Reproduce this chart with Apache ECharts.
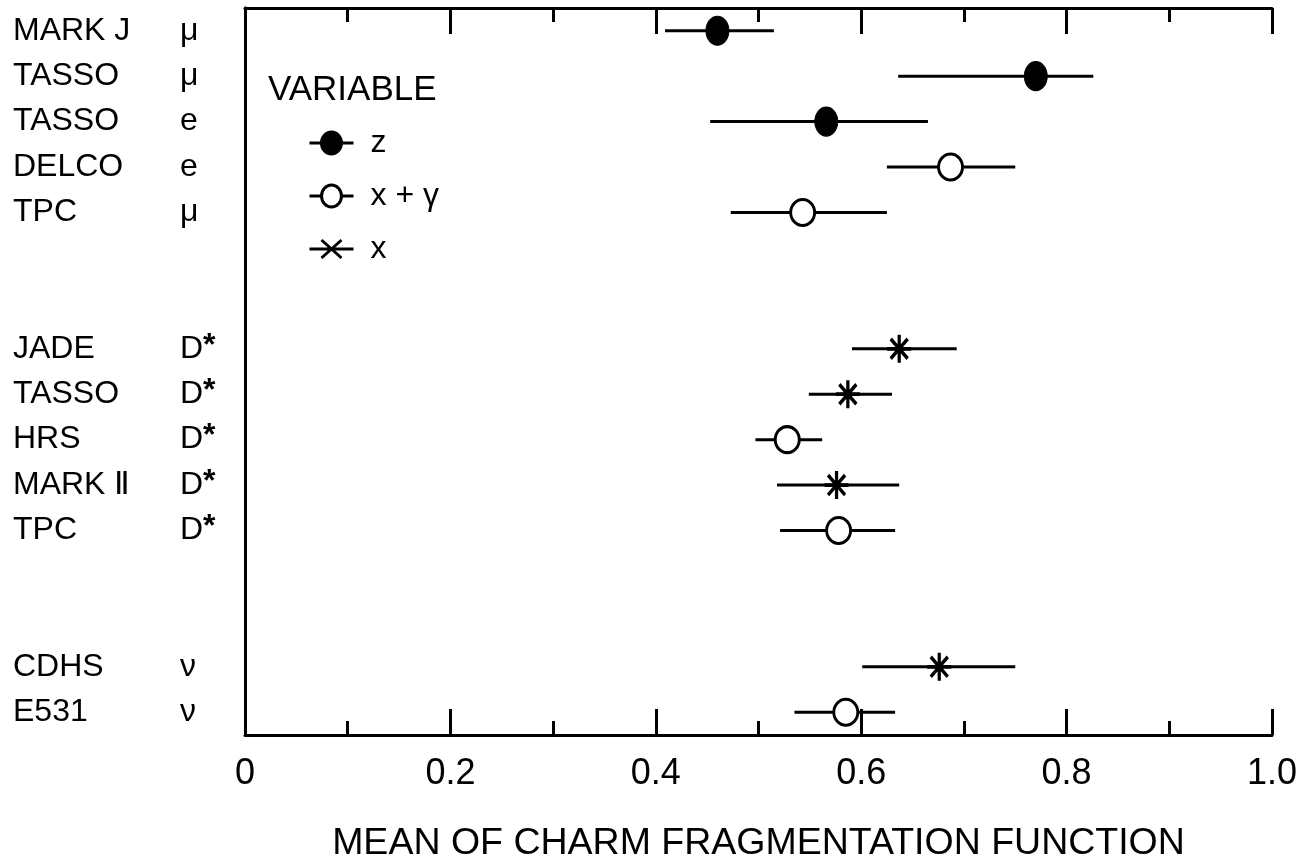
<!DOCTYPE html>
<html>
<head>
<meta charset="utf-8">
<title>Mean of charm fragmentation function</title>
<script src="https://cdn.jsdelivr.net/npm/echarts@6/dist/echarts.min.js"></script>
<style>
  html, body { margin: 0; padding: 0; background: #fff; }
  #chart { width: 1304px; height: 864px; }
</style>
</head>
<body>
<div id="chart"></div>
<script>
// Measurements, top to bottom
const experiments = ['MARK J', 'TASSO', 'TASSO', 'DELCO', 'TPC', 'JADE', 'TASSO', 'HRS', 'MARK Ⅱ', 'TPC', 'CDHS', 'E531'];
const particles   = ['μ', 'μ', 'e', 'e', 'μ', 'D*', 'D*', 'D*', 'D*', 'D*', 'ν', 'ν'];
const rowSlots    = [0, 1, 2, 3, 4, 7, 8, 9, 10, 11, 14, 15];
const variables   = ['z', 'z', 'z', 'x + γ', 'x + γ', 'x', 'x', 'x + γ', 'x', 'x + γ', 'x', 'x + γ'];
const means       = [0.460, 0.770, 0.566, 0.687, 0.543, 0.637, 0.587, 0.528, 0.576, 0.578, 0.676, 0.585];
const lows        = [0.409, 0.636, 0.453, 0.625, 0.473, 0.591, 0.549, 0.497, 0.518, 0.521, 0.601, 0.535];
const highs       = [0.515, 0.826, 0.665, 0.750, 0.625, 0.693, 0.630, 0.562, 0.637, 0.633, 0.750, 0.633];
const slotCount   = 16;

// x axis
const xMin = 0, xMax = 1, xStep = 0.2;
const xTitle = 'MEAN OF CHARM FRAGMENTATION FUNCTION';
const legendTitle = 'VARIABLE';
const variableNames = ['z', 'x + γ', 'x'];

const FONT = '"Liberation Sans", Arial, sans-serif';
const INK = '#000';

// one category per row slot, empty slots separate the groups
const slotKeys = [];
for (let s = 0; s < slotCount; s++) slotKeys.push('');
rowSlots.forEach((s, i) => { slotKeys[s] = experiments[i] + '|' + particles[i]; });

const errorData = rowSlots.map((s, i) => [lows[i], highs[i], s]);

function pointsFor(v) {
  const out = [];
  variables.forEach((name, i) => { if (name === v) out.push([means[i], rowSlots[i]]); });
  return out;
}

const starPath = 'path://M12,0 L12,24 M0,12 L24,12 M3.5,3.5 L20.5,20.5 M20.5,3.5 L3.5,20.5';

const symbolStyles = {
  'z':     { symbol: 'circle', symbolSize: [23, 29], itemStyle: { color: INK, borderColor: INK, borderWidth: 1, opacity: 1 } },
  'x + γ': { symbol: 'circle', symbolSize: [24, 26], itemStyle: { color: '#fff', borderColor: INK, borderWidth: 3, opacity: 1 } },
  'x':     { symbol: starPath, symbolSize: [24, 28], itemStyle: { color: INK, borderColor: INK, borderWidth: 3.5, opacity: 1 } }
};

const legendIcons = {
  'z':     'path://M0,14 L44,14 M22,3 A10,11 0 1 1 21.9,3 Z',
  'x + γ': 'path://M0,14 L12,14 M32,14 L44,14 M32,14 A10,11 0 1 1 12,14 A10,11 0 1 1 32,14 Z',
  'x':     'path://M0,14 L44,14 M12,5 L32,23 M32,5 L12,23'
};

const axisLineStyle = { color: INK, width: 3 };

const chart = echarts.init(document.getElementById('chart'), null, { renderer: 'canvas' });

const option = {
  backgroundColor: '#fff',
  animation: false,
  textStyle: { fontFamily: FONT, color: INK },
  title: {
    text: legendTitle,
    left: 263,
    top: 68,
    textStyle: { fontFamily: FONT, fontSize: 35, fontWeight: 'normal', color: INK }
  },
  legend: {
    orient: 'vertical',
    left: 302,
    top: 122,
    itemWidth: 44,
    itemHeight: 28,
    itemGap: 21,
    selectedMode: false,
    textStyle: { fontFamily: FONT, fontSize: 32, color: INK, padding: [0, 0, 0, 12], lineHeight: 30 },
    data: variableNames.map(v => ({
      name: v,
      icon: legendIcons[v],
      itemStyle: {
        color: v === 'x + γ' ? '#fff' : (v === 'x' ? 'none' : INK),
        borderColor: INK,
        borderWidth: 3,
        opacity: 1
      }
    }))
  },
  grid: { left: 245, right: 32, top: 8, bottom: 129, containLabel: false, outerBoundsMode: 'none' },
  xAxis: [
    {
      type: 'value',
      position: 'bottom',
      min: xMin,
      max: xMax,
      interval: xStep,
      name: xTitle,
      nameLocation: 'middle',
      nameGap: 90,
      nameTextStyle: { fontFamily: FONT, fontSize: 37.5, color: INK },
      axisLine: { show: true, lineStyle: axisLineStyle },
      axisTick: { show: true, inside: true, length: 26, lineStyle: { color: INK, width: 3 } },
      minorTick: { show: true, splitNumber: 2, length: 14, lineStyle: { color: INK, width: 3 } },
      splitLine: { show: false },
      minorSplitLine: { show: false },
      axisLabel: {
        margin: 21,
        fontFamily: FONT,
        fontSize: 36,
        color: INK,
        formatter: v => (v === 0 ? '0' : v.toFixed(1))
      }
    },
    {
      type: 'value',
      position: 'top',
      min: xMin,
      max: xMax,
      interval: xStep,
      axisLine: { show: true, lineStyle: axisLineStyle },
      axisTick: { show: true, inside: true, length: 26, lineStyle: { color: INK, width: 3 } },
      minorTick: { show: true, splitNumber: 2, length: 14, lineStyle: { color: INK, width: 3 } },
      splitLine: { show: false },
      minorSplitLine: { show: false },
      axisLabel: { show: false }
    }
  ],
  yAxis: [
    {
      type: 'category',
      inverse: true,
      data: slotKeys,
      axisLine: { show: true, lineStyle: axisLineStyle },
      axisTick: { show: false },
      splitLine: { show: false },
      axisLabel: {
        interval: 0,
        align: 'left',
        margin: 232,
        formatter: key => {
          if (!key) return '';
          const [name, part] = key.split('|');
          const p = part === 'D*' ? '{p|D}{s|*}' : '{p|' + part + '}';
          return '{n|' + name + '}' + p;
        },
        rich: {
          n: { fontFamily: FONT, fontSize: 32, color: INK, width: 167 },
          p: { fontFamily: FONT, fontSize: 32, color: INK },
          s: { fontFamily: FONT, fontSize: 32, fontWeight: 'bold', color: INK, verticalAlign: 'top', padding: [0, 0, 6, 0] }
        }
      }
    },
    {
      type: 'value',
      position: 'right',
      min: 0,
      max: 1,
      axisLine: { show: true, lineStyle: axisLineStyle },
      axisTick: { show: false },
      axisLabel: { show: false },
      splitLine: { show: false }
    }
  ],
  series: [
    {
      type: 'custom',
      name: 'error',
      xAxisIndex: 0,
      yAxisIndex: 0,
      data: errorData,
      encode: { x: [0, 1], y: 2 },
      z: 2,
      renderItem: (params, api) => {
        const row = api.value(2);
        const a = api.coord([api.value(0), row]);
        const b = api.coord([api.value(1), row]);
        return {
          type: 'line',
          shape: { x1: a[0], y1: a[1], x2: b[0], y2: b[1] },
          style: { stroke: INK, lineWidth: 3 }
        };
      }
    },
    ...variableNames.map(v => ({
      type: 'scatter',
      name: v,
      xAxisIndex: 0,
      yAxisIndex: 0,
      z: 5,
      data: pointsFor(v),
      symbol: symbolStyles[v].symbol,
      symbolSize: symbolStyles[v].symbolSize,
      itemStyle: symbolStyles[v].itemStyle,
      emphasis: { disabled: true }
    }))
  ]
};

chart.setOption(option);
</script>
</body>
</html>
